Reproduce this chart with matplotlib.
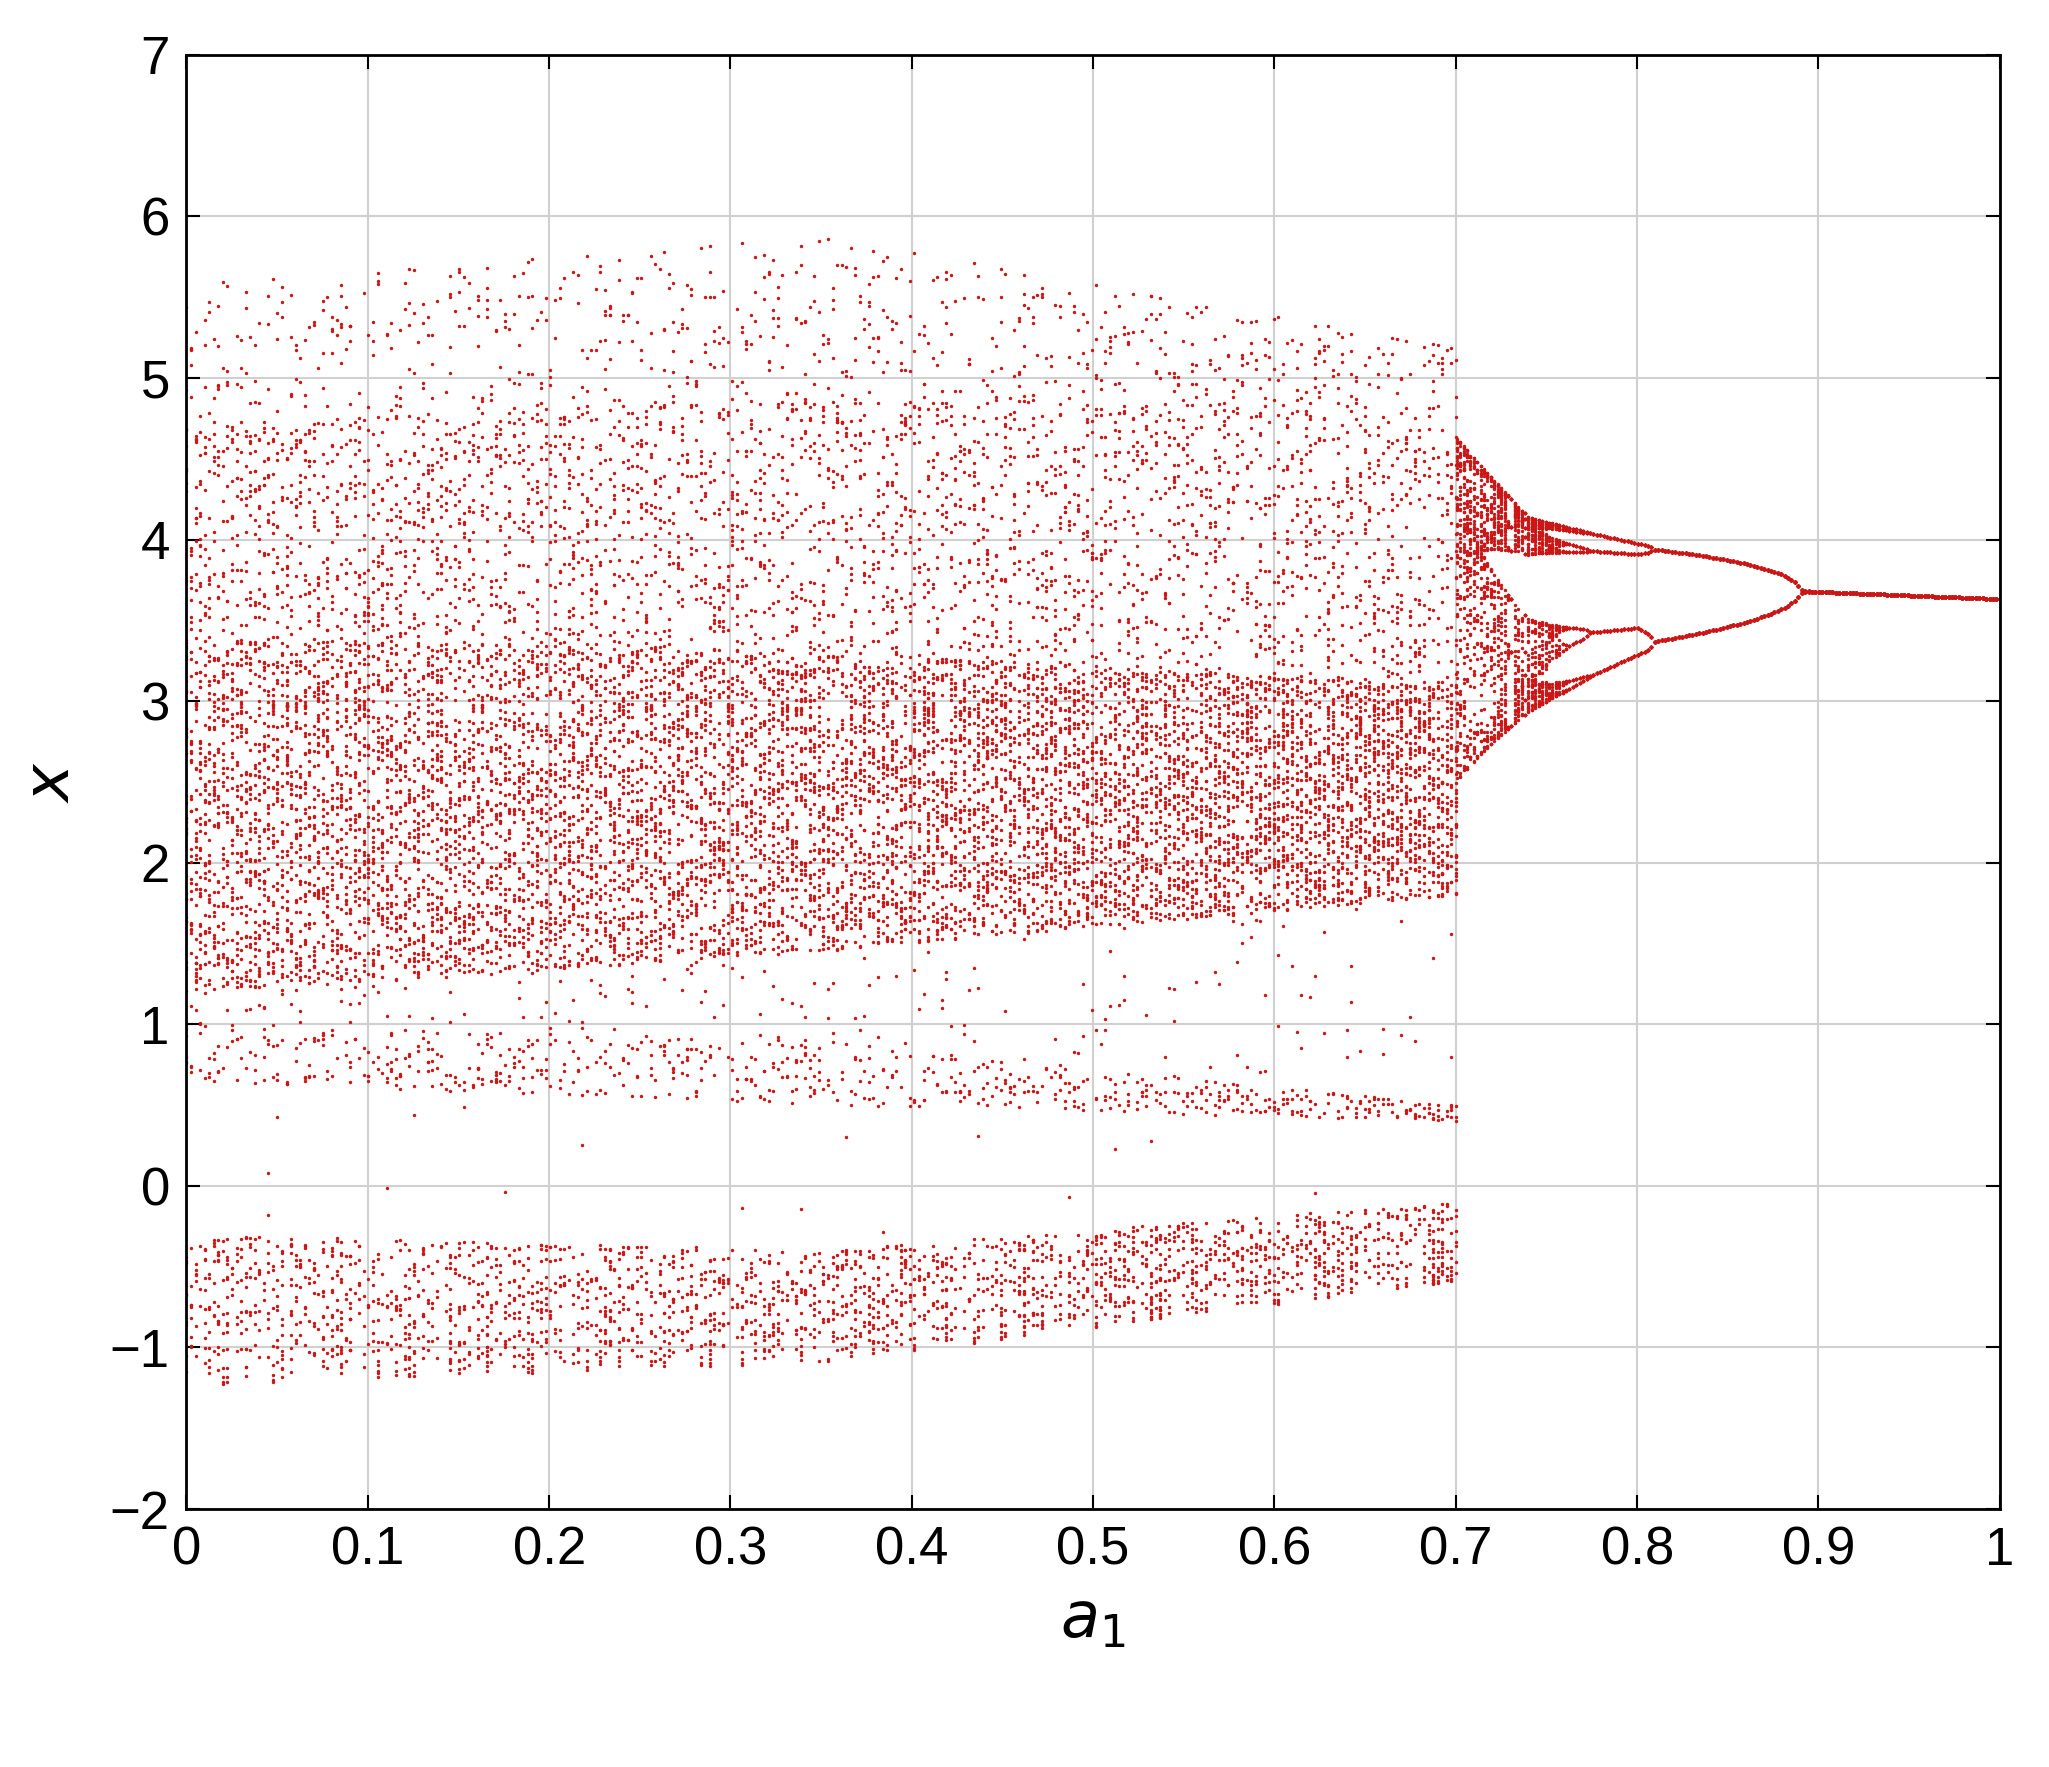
import numpy as np
import matplotlib
matplotlib.use("Agg")
import matplotlib.pyplot as plt

# Periodic region (a1 > 0.7): map parameter and affine placement
a_knots = [0.7, 0.74, 0.80, 0.89, 1.0]
r_knots = [3.72, 3.60, 3.50, 3.00, 2.88]
lo_knots = [1.75, 2.25, 2.75, 2.78, 2.75]
sc_knots = [3.1, 2.1, 1.4, 1.35, 1.35]
# Chaotic region (a1 <= 0.7): quantile levels of the point cloud and their x positions at three a1 values
q_levels = [0.0, 0.14, 0.141, 0.18, 0.19, 0.78, 0.96, 1.0]
band_a = [0.0, 0.35, 0.70]
band_x = [[-1.25, -0.3, 0.65, 1.0, 1.2, 3.4, 4.7, 5.6],
          [-1.1, -0.4, 0.5, 0.9, 1.45, 3.3, 4.9, 5.9],
          [-0.6, -0.1, 0.4, 0.5, 1.8, 3.1, 4.8, 5.2]]
xticks = [0, 0.1, 0.2, 0.3, 0.4, 0.5, 0.6, 0.7, 0.8, 0.9, 1]
xticklabels = ['0', '0.1', '0.2', '0.3', '0.4', '0.5', '0.6', '0.7', '0.8', '0.9', '1']
yticks = [-2, -1, 0, 1, 2, 3, 4, 5, 6, 7]
yticklabels = ['\u22122', '\u22121', '0', '1', '2', '3', '4', '5', '6', '7']

A, X = [], []
# chaotic part
a_c = np.linspace(0, 0.7, 280)
k = np.arange(a_c.size)
x = 0.1 + 0.8 * ((k * 0.6180339887) % 1.0)
bx = np.array(band_x)
xk = np.array([np.interp(a_c, band_a, bx[:, j]) for j in range(len(q_levels))]).T
for _ in range(50):
    x = 4.0 * x * (1 - x)
for _ in range(60):
    x = 3.99999 * x * (1 - x)
    u = 2 / np.pi * np.arcsin(np.sqrt(np.clip(x, 0, 1)))
    A.append(a_c.copy())
    X.append(np.array([np.interp(u[i], q_levels, xk[i]) for i in range(a_c.size)]))
# periodic part
a_p = np.linspace(0.7005, 1, 160)
r = np.interp(a_p, a_knots, r_knots)
lo = np.interp(a_p, a_knots, lo_knots)
sc = np.interp(a_p, a_knots, sc_knots)
x = np.full_like(a_p, 0.3123)
for _ in range(500):
    x = r * x * (1 - x)
for _ in range(60):
    x = r * x * (1 - x)
    A.append(a_p.copy()); X.append(lo + sc * x)
A = np.concatenate(A); X = np.concatenate(X)

fam = ['Liberation Sans Narrow', 'Liberation Sans', 'DejaVu Sans']
fig = plt.figure(figsize=(20.49, 17.67), dpi=100)
ax = fig.add_axes([0.091, 0.146, 0.885, 0.823])
ax.scatter(A, X, s=6, color='#cc1515', linewidths=0)
ax.set_xlim(0, 1); ax.set_ylim(-2, 7)
ax.set_xticks(xticks); ax.set_xticklabels(xticklabels, family=fam, fontsize=38)
ax.set_yticks(yticks); ax.set_yticklabels(yticklabels, family=fam, fontsize=38)
ax.grid(True, color='#d0d0d0', linewidth=1.5)
ax.set_axisbelow(True)
ax.tick_params(direction='in', length=10, width=1.5, top=True, right=True, labeltop=False, labelright=False, pad=12)
for s in ax.spines.values():
    s.set_linewidth(2)
ax.set_xlabel('$a_1$', fontsize=46, family='serif', labelpad=10)
ax.set_ylabel('$x$', fontsize=46, family='serif', labelpad=20)
fig.savefig('out.png', dpi=100, facecolor='white')
